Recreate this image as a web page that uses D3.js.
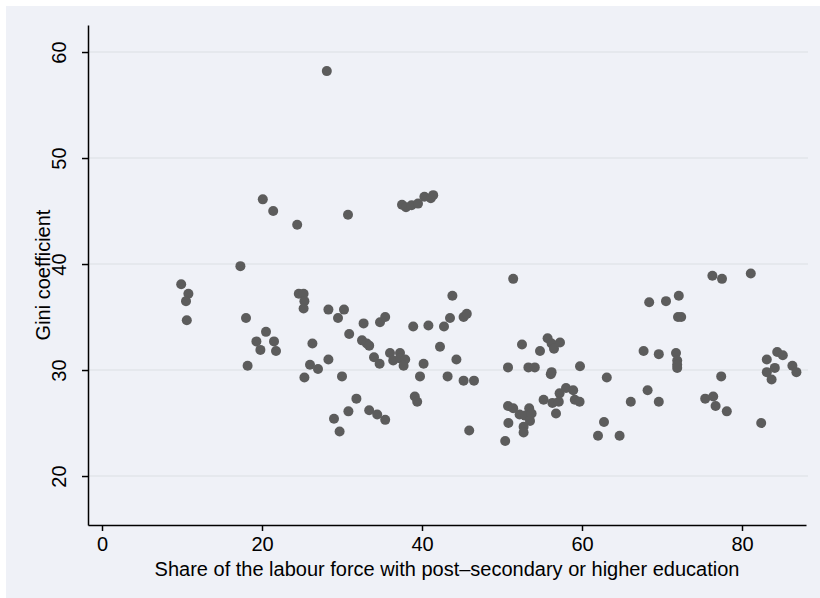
<!DOCTYPE html>
<html>
<head>
<meta charset="utf-8">
<script src="https://cdn.jsdelivr.net/npm/d3@7"></script>
<style>
  body { margin: 0; background: #ffffff; }
  svg text { font-family: "Liberation Sans", Arial, sans-serif; fill: #000; }
</style>
</head>
<body>
<script>
// share of labour force with post-secondary education (x) and Gini (y)
var eduShare = [
  9.9, 10.8, 10.5, 10.6, 17.3, 18.0, 20.5, 19.3, 19.8, 21.5,
  21.75, 18.2, 24.6, 25.2, 25.3, 25.2, 26.3, 26.0, 27.0, 25.3,
  28.3, 30.25, 29.5, 28.3, 30.0, 30.9, 32.7, 32.5, 33.1, 33.4,
  34.0, 34.7, 34.75, 35.4, 36.0, 36.4, 37.25, 37.25, 37.9, 37.7,
  31.8, 30.8, 29.0, 29.7, 33.4, 34.4, 35.4, 38.9, 40.8, 42.75,
  43.5, 43.8, 45.2, 45.6, 42.25, 44.3, 40.2, 39.75, 43.2, 45.2,
  46.5, 39.1, 39.4, 45.9, 51.4, 50.75, 52.5, 54.75, 55.7, 56.2,
  56.5, 57.25, 53.3, 54.1, 56.1, 56.2, 59.75, 63.1, 66.1, 50.75,
  51.4, 52.2, 52.9, 53.4, 53.7, 53.5, 52.7, 52.7, 50.8, 50.4,
  55.2, 56.3, 57.2, 58.0, 58.9, 59.1, 59.7, 57.1, 56.75, 62.75,
  62.0, 64.7, 68.4, 70.5, 72.1, 72.0, 72.4, 76.3, 77.5, 81.1,
  67.7, 69.6, 71.75, 71.9, 71.9, 71.9, 77.4, 68.2, 69.6, 75.4,
  76.4, 76.7, 78.1, 82.4, 83.1, 84.4, 85.1, 83.1, 84.1, 83.7,
  86.3, 86.8, 28.1, 20.1, 21.4, 24.4, 30.75, 37.5, 38.0, 38.7,
  39.5, 40.3, 41.1, 41.4
];
var gini = [
  38.1, 37.2, 36.5, 34.7, 39.8, 34.9, 33.6, 32.7, 31.9, 32.7,
  31.8, 30.4, 37.2, 37.2, 36.5, 35.8, 32.5, 30.5, 30.1, 29.3,
  35.7, 35.7, 34.9, 31.0, 29.4, 33.4, 34.4, 32.8, 32.5, 32.3,
  31.2, 30.6, 34.5, 35.0, 31.6, 30.9, 31.6, 31.1, 31.0, 30.4,
  27.3, 26.1, 25.4, 24.2, 26.2, 25.8, 25.3, 34.1, 34.2, 34.1,
  34.9, 37.0, 35.0, 35.3, 32.2, 31.0, 30.6, 29.4, 29.4, 29.0,
  29.0, 27.5, 27.0, 24.3, 38.6, 30.25, 32.4, 31.8, 33.0, 32.5,
  32.0, 32.6, 30.25, 30.25, 29.6, 29.8, 30.35, 29.3, 27.0, 26.6,
  26.4, 25.8, 25.7, 26.4, 25.9, 25.2, 24.65, 24.1, 25.0, 23.3,
  27.2, 26.9, 27.8, 28.3, 28.1, 27.2, 27.0, 27.0, 25.9, 25.1,
  23.8, 23.8, 36.4, 36.5, 37.0, 35.0, 35.0, 38.9, 38.6, 39.1,
  31.8, 31.5, 31.6, 30.9, 30.5, 30.2, 29.4, 28.1, 27.0, 27.3,
  27.5, 26.6, 26.1, 25.0, 31.0, 31.7, 31.4, 29.8, 30.2, 29.1,
  30.4, 29.8, 58.2, 46.1, 45.0, 43.7, 44.65, 45.6, 45.35, 45.55,
  45.7, 46.35, 46.2, 46.5
];
var xTicks = [0, 20, 40, 60, 80];
var yTicks = [20, 30, 40, 50, 60];

var width = 820,
    height = 598;

var svg = d3.select("body").append("svg")
    .attr("width", width)
    .attr("height", height);

// graph region
svg.append("rect")
    .attr("x", 6)
    .attr("y", 6)
    .attr("width", width - 6)
    .attr("height", height - 6)
    .attr("fill", "#eff1f7");

var x = d3.scaleLinear().domain([-1.75, 88]).range([88, 806]);
var y = d3.scaleLinear().domain([15.38, 62.55]).range([525, 25]);

// grid lines
svg.append("g")
    .selectAll("line")
    .data(yTicks)
    .enter().append("line")
    .attr("x1", 88)
    .attr("x2", 808)
    .attr("y1", function(d) { return y(d); })
    .attr("y2", function(d) { return y(d); })
    .attr("stroke", "#e2e4ea")
    .attr("stroke-width", 1.5);

// points
svg.append("g")
    .selectAll("circle")
    .data(eduShare)
    .enter().append("circle")
    .attr("cx", function(d) { return x(d); })
    .attr("cy", function(d, i) { return y(gini[i]); })
    .attr("r", 5)
    .attr("fill", "#5c5c5c");

// x axis
var xAxis = svg.append("g")
    .attr("transform", "translate(0,525)")
    .call(d3.axisBottom(x).tickValues(xTicks).tickSize(6).tickPadding(6).tickSizeOuter(0));
xAxis.selectAll("text").style("font-size", "20px");

// y axis
var yAxis = svg.append("g")
    .attr("transform", "translate(88,0)")
    .call(d3.axisLeft(y).tickValues(yTicks).tickSize(6).tickSizeOuter(0));
yAxis.selectAll("text")
    .style("font-size", "20px")
    .attr("text-anchor", "middle")
    .attr("dy", null)
    .attr("x", 0)
    .attr("y", -22)
    .attr("transform", "rotate(-90)");

svg.selectAll(".domain").attr("stroke", "#000").attr("stroke-width", 1.5);
svg.selectAll(".tick line").attr("stroke", "#000").attr("stroke-width", 1.5);

// axis titles
svg.append("text")
    .attr("x", 447)
    .attr("y", 576)
    .attr("text-anchor", "middle")
    .style("font-size", "20px")
    .text("Share of the labour force with post\u2013secondary or higher education");

svg.append("text")
    .attr("transform", "translate(50,275) rotate(-90)")
    .attr("text-anchor", "middle")
    .style("font-size", "20px")
    .text("Gini coefficient");
</script>
</body>
</html>
